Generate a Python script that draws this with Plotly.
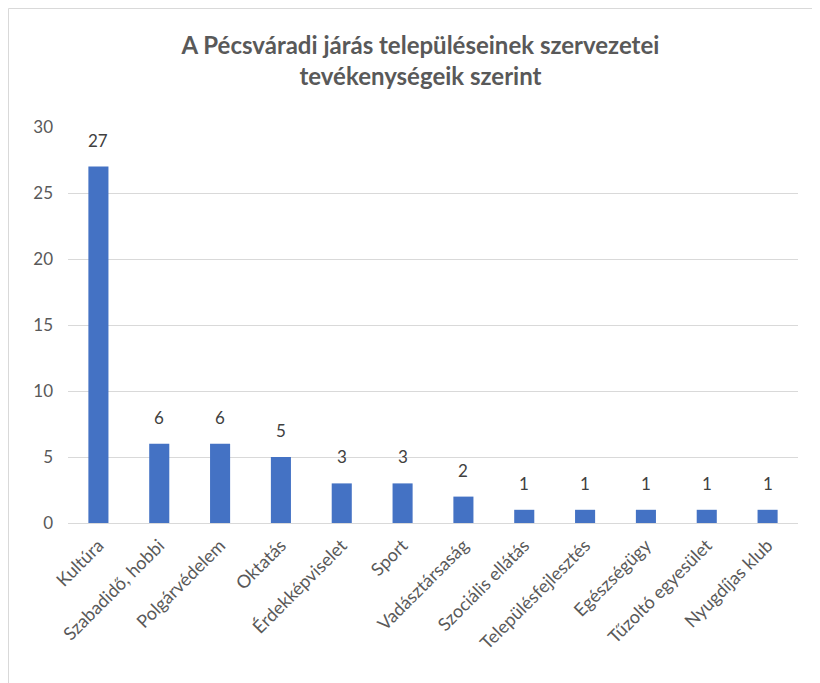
import plotly.graph_objects as go

categories = ["Kultúra", "Szabadidő, hobbi", "Polgárvédelem", "Oktatás", "Érdekképviselet",
              "Sport", "Vadásztársaság", "Szociális ellátás", "Településfejlesztés",
              "Egészségügy", "Tűzoltó egyesület", "Nyugdíjas klub"]
values = [27, 6, 6, 5, 3, 3, 2, 1, 1, 1, 1, 1]
y_ticks = [0, 5, 10, 15, 20, 25, 30]
title_text = "A Pécsváradi járás településeinek szervezetei<br>tevékenységeik szerint"

FONT = "Lato"
GRAY = "#595959"

W, H = 812, 675
ML, MR, MT, MB = 60, 22, 119, 160
PW, PH = W - ML - MR, H - MT - MB

fig = go.Figure()
fig.add_trace(go.Bar(
    x=categories, y=values,
    marker=dict(color="#4472C4", line=dict(width=0)),
    width=0.33,
    hoverinfo="x+y",
))

for c, v in zip(categories, values):
    fig.add_annotation(x=c, y=v, text=str(v), showarrow=False,
                       yanchor="bottom", yshift=14,
                       font=dict(family=FONT, size=17, color="#404040"))

# outer chart border
fig.add_shape(type="rect", xref="paper", yref="paper",
              x0=(0.5 - ML) / PW, x1=(W + 20 - ML) / PW,
              y0=-(MB + 20) / PH, y1=1 + (MT - 0.5) / PH,
              line=dict(color="#D9D9D9", width=1), fillcolor="rgba(0,0,0,0)",
              layer="below")

fig.update_layout(
    width=W, height=H,
    margin=dict(l=ML, r=MR, t=MT, b=MB, autoexpand=False),
    paper_bgcolor="white", plot_bgcolor="white",
    showlegend=False,
    title=dict(text=title_text, x=0.508, xanchor="center", y=0.932, yanchor="top",
               font=dict(family=FONT, size=24, color=GRAY, weight="bold")),
)
fig.update_xaxes(
    showline=True, linecolor="#D9D9D9", linewidth=1,
    tickangle=-45, ticks="",
    tickfont=dict(family=FONT, size=18, color=GRAY),
    ticklabelstandoff=4,
    showgrid=False, automargin=False,
)
fig.update_yaxes(
    range=[0, 30], tickvals=y_ticks,
    showgrid=True, gridcolor="#D9D9D9", gridwidth=1,
    zeroline=False, showline=False, ticks="",
    tickfont=dict(family=FONT, size=17, color=GRAY),
    ticklabelstandoff=14, automargin=False,
)

fig.write_html("out.html")
